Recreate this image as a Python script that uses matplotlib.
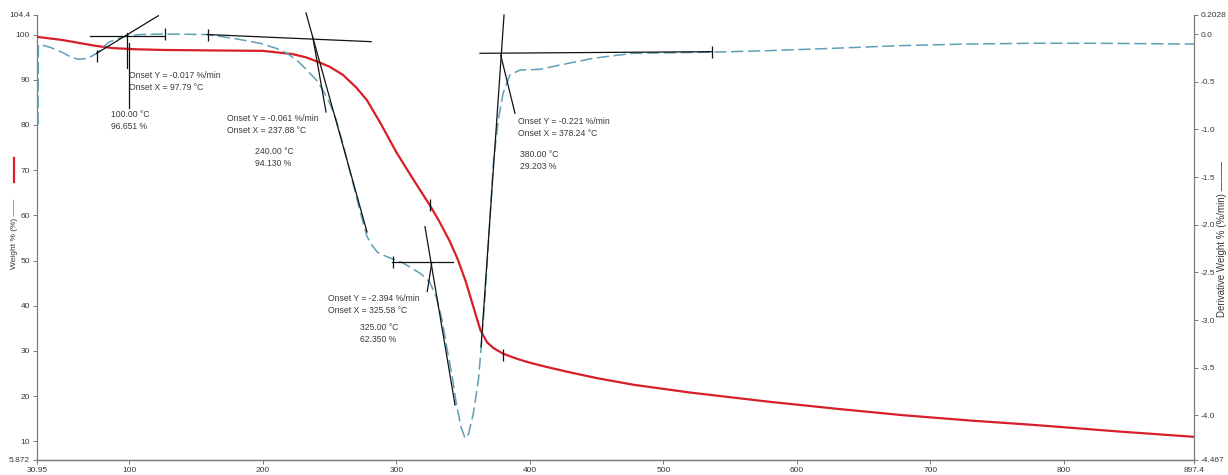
import matplotlib
matplotlib.use('Agg')
import matplotlib.pyplot as plt
from matplotlib.lines import Line2D

plt.rcParams['font.family'] = ['Liberation Sans', 'DejaVu Sans']

# weight curve (left axis)
weight_temp = [30.95, 50, 75, 88, 105, 125, 160, 200, 222, 232, 240, 250, 260, 270, 278,
               288, 300, 312, 325, 332, 340, 346, 352, 358, 363, 368, 373, 380, 390, 400,
               412, 428, 450, 478, 520, 578, 630, 679, 730, 779, 840, 897.4]
weight_pct = [99.5, 98.8, 97.5, 97.0, 96.75, 96.6, 96.5, 96.4, 95.7, 95.0, 94.13, 92.9, 91.1,
              88.3, 85.5, 80.5, 74.0, 68.3, 62.3, 58.8, 54.3, 50.3, 45.4, 39.5, 34.6, 31.9,
              30.6, 29.4, 28.3, 27.4, 26.5, 25.4, 24.0, 22.5, 20.8, 18.8, 17.2, 15.8, 14.6,
              13.6, 12.2, 11.0]

# derivative curve (right axis)
deriv_temp = [31.7, 32.0, 36, 41, 51, 56, 62, 69, 76, 80, 85, 90, 98, 108, 127, 158, 178, 198,
              210, 218, 226, 233, 240, 245, 250, 255, 260, 265, 270, 275, 278, 281, 286, 293,
              305, 318, 325, 330, 334, 338, 342, 345, 348.5, 351.5, 354, 357.7, 361.5, 363.5,
              366, 369, 372.7, 376.4, 380, 385, 392.7, 407.6, 422.6, 447.5, 477.5, 536.5, 577,
              627, 677, 727, 777, 827, 897.4]
deriv_val = [-0.95, -0.115, -0.12, -0.14, -0.2, -0.24, -0.265, -0.255, -0.2, -0.14, -0.085,
             -0.055, -0.02, -0.005, 0.0, -0.005, -0.045, -0.097, -0.15, -0.2, -0.28, -0.377,
             -0.48, -0.587, -0.72, -0.9, -1.15, -1.42, -1.7, -1.97, -2.12, -2.2, -2.29, -2.335,
             -2.40, -2.51, -2.6, -2.76, -2.98, -3.3, -3.6, -3.88, -4.12, -4.24, -4.2, -3.98,
             -3.63, -3.3, -2.85, -2.2, -1.35, -0.9, -0.62, -0.43, -0.377, -0.37, -0.325, -0.254,
             -0.202, -0.19, -0.175, -0.15, -0.122, -0.105, -0.097, -0.097, -0.105]

# onset construction lines (temperature pair, derivative pair)
onset_lines = [
    ((70.6, 126.8), (-0.017, -0.017)),
    ((75.6, 121.8), (-0.202, 0.192)),
    ((98.1, 98.1), (0.008, -0.36)),
    ((99.85, 99.85), (-0.094, -0.776)),
    ((158.3, 281.1), (-0.005, -0.08)),
    ((232.4, 278.1), (0.221, -2.076)),
    ((237.6, 247.4), (-0.041, -0.818)),
    ((296.6, 342.7), (-2.394, -2.394)),
    ((321.5, 344.0), (-2.02, -3.89)),
    ((326.5, 323.2), (-2.404, -2.70)),
    ((362.7, 536.5), (-0.202, -0.185)),
    ((363.5, 380.7), (-3.28, 0.2)),
    ((378.2, 388.9), (-0.22, -0.831)),
]
limit_temp = [75.6, 126.8, 158.8, 297.3, 536.5]
limit_deriv = [-0.23, 0.0, -0.005, -2.39, -0.19]
point_temp = [325.0, 380.0]
point_weight = [62.35, 29.203]

annot_text = ['Onset Y = -0.017 %/min\nOnset X = 97.79 °C', '100.00 °C\n96.651 %',
              'Onset Y = -0.061 %/min\nOnset X = 237.88 °C', '240.00 °C\n94.130 %',
              'Onset Y = -2.394 %/min\nOnset X = 325.58 °C', '325.00 °C\n62.350 %',
              'Onset Y = -0.221 %/min\nOnset X = 378.24 °C', '380.00 °C\n29.203 %']
annot_x = [99.85, 86.4, 173.2, 194.2, 248.9, 272.8, 391.2, 392.7]
annot_y = [89.6, 81.0, 80.1, 72.8, 40.3, 33.9, 79.4, 72.1]

x_ticks = [30.95, 100, 200, 300, 400, 500, 600, 700, 800, 897.4]
x_labels = ['30.95', '100', '200', '300', '400', '500', '600', '700', '800', '897.4']
w_ticks = [5.872, 10, 20, 30, 40, 50, 60, 70, 80, 90, 100, 104.4]
w_labels = ['5.872', '10', '20', '30', '40', '50', '60', '70', '80', '90', '100', '104.4']
d_ticks = [-4.467, -4.0, -3.5, -3.0, -2.5, -2.0, -1.5, -1.0, -0.5, 0.0, 0.2028]
d_labels = ['-4.467', '-4.0', '-3.5', '-3.0', '-2.5', '-2.0', '-1.5', '-1.0', '-0.5', '0.0', '0.2028']

W, H = 1228, 475
fig = plt.figure(figsize=(W / 100, H / 100), dpi=100)
ax = fig.add_axes([37 / W, 15 / H, 1157 / W, 445.3 / H])
ax2 = ax.twinx()

red = '#d81e28'
blue = '#5f9fb8'
grey = '#7a7a7a'
txt = '#3a3a3a'

ax.plot(weight_temp, weight_pct, color=red, lw=1.6, zorder=3)
ax2.plot(deriv_temp, deriv_val, color=blue, lw=1.1, dashes=(8, 3), zorder=2)

for xs, ys in onset_lines:
    ax2.plot(xs, ys, color='#111111', lw=0.9, clip_on=False, zorder=4)
ax2.plot(limit_temp, limit_deriv, ls='none', marker='|', ms=9, mew=0.9, color='#111111')
ax.plot(point_temp, point_weight, ls='none', marker='|', ms=9, mew=0.9, color='#111111', zorder=4)

for s, tx, ty in zip(annot_text, annot_x, annot_y):
    ax.text(tx, ty, s, fontsize=6.2, color=txt, ha='left', va='center', linespacing=1.35)

ax.set_xlim(30.95, 897.4)
ax.set_ylim(5.872, 104.4)
ax2.set_ylim(-4.467, 0.2028)
ax.set_xticks(x_ticks)
ax.set_xticklabels(x_labels)
ax.set_yticks(w_ticks)
ax.set_yticklabels(w_labels)
ax2.set_yticks(d_ticks)
ax2.set_yticklabels(d_labels)

for a in (ax, ax2):
    a.spines['top'].set_visible(False)
    for side in ('left', 'right', 'bottom'):
        a.spines[side].set_color(grey)
        a.spines[side].set_linewidth(0.9)
    a.tick_params(direction='out', length=3, width=0.7, color=grey, labelcolor=txt,
                  labelsize=6, pad=2)
ax.spines['right'].set_visible(False)
ax2.spines['left'].set_visible(False)

# axis titles with legend strokes
fig.text(15 / W, 1 - 234 / H, 'Weight % (%) ——', rotation=90, fontsize=6, color=txt,
         ha='center', va='center')
fig.add_artist(Line2D([14 / W, 14 / W], [1 - 158 / H, 1 - 182 / H], color=red, lw=1.6))
fig.text(1222 / W, 1 - 239 / H, 'Derivative Weight % (%/min) ———', rotation=90, fontsize=7,
         color=txt, ha='center', va='center')

fig.savefig('out.png', dpi=100)
